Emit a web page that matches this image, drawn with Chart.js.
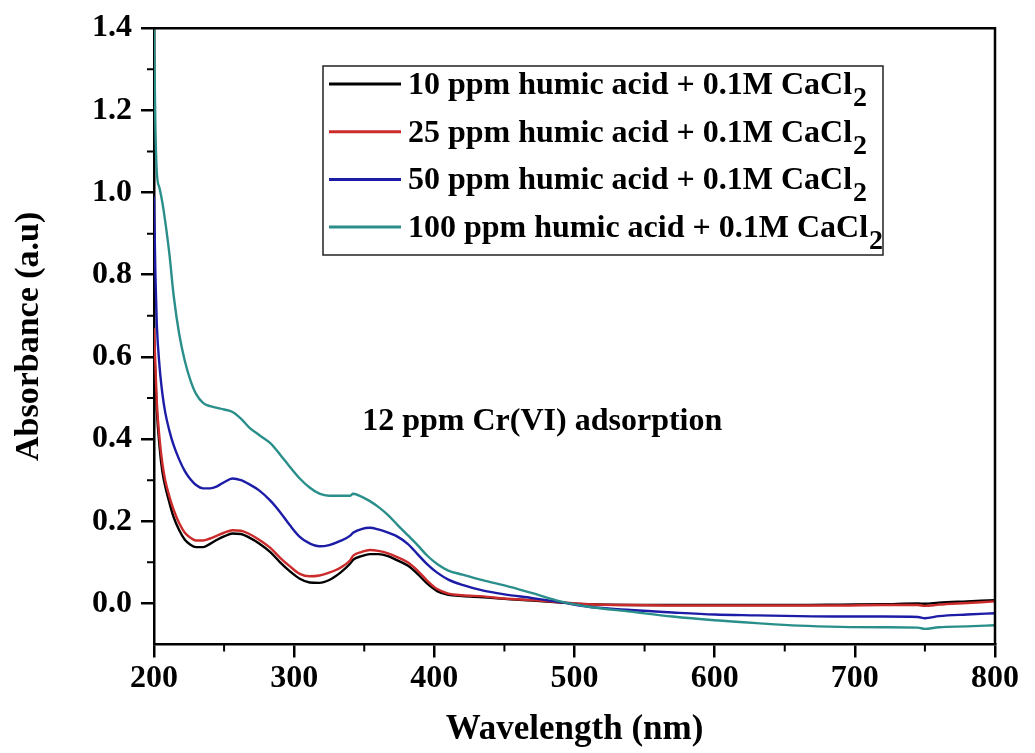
<!DOCTYPE html>
<html>
<head>
<meta charset="utf-8">
<script src="https://cdn.jsdelivr.net/npm/chart.js@4"></script>
<style>
  html, body { margin: 0; padding: 0; background: #fff; }
  canvas { display: block; }
</style>
</head>
<body>
<canvas id="uvChart" width="1035" height="753"></canvas>
<script>
// wavelength grid (nm) shared by all spectra
const wavelengths = [200, 201, 202, 204, 206, 208, 211, 214, 218, 222, 226, 230, 235, 240, 245, 250, 256, 262, 268, 275,
    283, 290, 297, 304, 311, 318, 325, 333, 340, 342, 348, 354, 360, 367, 374, 381, 388, 395, 402, 410,
    420, 435, 450, 470, 490, 510, 540, 570, 600, 630, 660, 690, 720, 745, 750, 760, 780, 800];

// absorbance
const ha10 = [0.64, 0.55, 0.47, 0.38, 0.32, 0.285, 0.245, 0.21, 0.178, 0.155, 0.143, 0.137, 0.137, 0.145, 0.155, 0.163, 0.17, 0.169, 0.16, 0.146,
    0.125, 0.1, 0.078, 0.06, 0.051, 0.05, 0.057, 0.075, 0.097, 0.106, 0.115, 0.12, 0.12, 0.115, 0.104, 0.092, 0.072, 0.048, 0.03, 0.021,
    0.018, 0.015, 0.011, 0.007, 0.002, -0.002, -0.004, -0.004, -0.004, -0.004, -0.004, -0.003, -0.002, 0, -0.001, 0.002, 0.005, 0.008];
const ha25 = [0.67, 0.58, 0.49, 0.40, 0.34, 0.30, 0.26, 0.228, 0.195, 0.172, 0.16, 0.153, 0.153, 0.158, 0.165, 0.172, 0.178, 0.177, 0.169, 0.155,
    0.135, 0.111, 0.09, 0.072, 0.066, 0.068, 0.075, 0.087, 0.105, 0.116, 0.125, 0.13, 0.128, 0.122, 0.112, 0.1, 0.08, 0.055, 0.035, 0.024,
    0.02, 0.017, 0.012, 0.008, 0.003, -0.002, -0.004, -0.005, -0.005, -0.005, -0.005, -0.005, -0.004, -0.004, -0.006, -0.003, 0.001, 0.005];
const ha50 = [0.99, 0.80, 0.68, 0.575, 0.51, 0.465, 0.42, 0.385, 0.35, 0.322, 0.302, 0.288, 0.28, 0.28, 0.285, 0.295, 0.304, 0.30, 0.29, 0.275,
    0.25, 0.222, 0.19, 0.162, 0.146, 0.139, 0.142, 0.152, 0.165, 0.172, 0.181, 0.184, 0.18, 0.172, 0.162, 0.145, 0.12, 0.095, 0.075, 0.058,
    0.045, 0.031, 0.022, 0.013, 0.003, -0.008, -0.016, -0.022, -0.027, -0.029, -0.031, -0.032, -0.032, -0.033, -0.036, -0.031, -0.027, -0.024];
const ha100 = [1.40, 1.16, 1.05, 1.01, 0.975, 0.93, 0.85, 0.75, 0.655, 0.59, 0.543, 0.51, 0.488, 0.48, 0.476, 0.472, 0.466, 0.45, 0.428, 0.41,
    0.39, 0.362, 0.332, 0.304, 0.282, 0.267, 0.262, 0.262, 0.262, 0.267, 0.26, 0.249, 0.235, 0.215, 0.19, 0.166, 0.142, 0.116, 0.096, 0.08,
    0.07, 0.056, 0.044, 0.025, 0.005, -0.008, -0.02, -0.032, -0.041, -0.048, -0.054, -0.057, -0.058, -0.059, -0.062, -0.058, -0.056, -0.053];

const seriesLabels = [
    '10 ppm humic acid + 0.1M CaCl2',
    '25 ppm humic acid + 0.1M CaCl2',
    '50 ppm humic acid + 0.1M CaCl2',
    '100 ppm humic acid + 0.1M CaCl2'
];
const seriesColors = ['#000000', '#cc2b2b', '#1c1ca6', '#2a8f8a'];

const xTicks = [200, 300, 400, 500, 600, 700, 800];
const yTicks = [0.0, 0.2, 0.4, 0.6, 0.8, 1.0, 1.2, 1.4];
const xMinorTicks = [250, 350, 450, 550, 650, 750];
const yMinorTicks = [0.1, 0.3, 0.5, 0.7, 0.9, 1.1, 1.3];

const noteText = '12 ppm Cr(VI) adsorption';

const SERIF = "'Liberation Serif', 'Times New Roman', serif";

function toPoints(ys) {
    return wavelengths.map((x, i) => ({ x: x, y: ys[i] }));
}

// frame on top/right + short minor ticks
const framePlugin = {
    id: 'framePlugin',
    afterDraw(chart) {
        const { ctx, chartArea: a, scales } = chart;
        ctx.save();
        ctx.strokeStyle = '#000';
        ctx.lineWidth = 2.5;
        ctx.beginPath();
        ctx.moveTo(a.left, a.top);
        ctx.lineTo(a.right, a.top);
        ctx.lineTo(a.right, a.bottom);
        ctx.stroke();

        ctx.lineWidth = 2;
        ctx.beginPath();
        xMinorTicks.forEach(v => {
            const px = scales.x.getPixelForValue(v);
            ctx.moveTo(px, a.bottom);
            ctx.lineTo(px, a.bottom + 7);
        });
        yMinorTicks.forEach(v => {
            const py = scales.y.getPixelForValue(v);
            ctx.moveTo(a.left, py);
            ctx.lineTo(a.left - 7, py);
        });
        ctx.stroke();
        ctx.restore();
    }
};

// boxed legend with subscript 2, plus the annotation text
const legendPlugin = {
    id: 'legendPlugin',
    afterDraw(chart) {
        const { ctx, scales } = chart;
        const boxX = 323, boxY = 66, boxW = 560, boxH = 189;
        ctx.save();
        ctx.fillStyle = '#fff';
        ctx.fillRect(boxX, boxY, boxW, boxH);
        ctx.strokeStyle = '#222';
        ctx.lineWidth = 1.5;
        ctx.strokeRect(boxX, boxY, boxW, boxH);

        chart.data.datasets.forEach((ds, i) => {
            const y = 84 + i * 47.7;
            ctx.strokeStyle = ds.borderColor;
            ctx.lineWidth = 3;
            ctx.beginPath();
            ctx.moveTo(329, y);
            ctx.lineTo(401, y);
            ctx.stroke();

            const m = ds.label.match(/^(.*CaCl)(\d)$/);
            const main = m ? m[1] : ds.label;
            ctx.fillStyle = '#000';
            ctx.textBaseline = 'alphabetic';
            ctx.textAlign = 'left';
            ctx.font = 'bold 32px ' + SERIF;
            ctx.fillText(main, 408, y + 10);
            if (m) {
                const w = ctx.measureText(main).width;
                ctx.font = 'bold 28px ' + SERIF;
                ctx.fillText(m[2], 408 + w + 1, y + 22);
            }
        });

        ctx.font = 'bold 32px ' + SERIF;
        ctx.fillStyle = '#000';
        ctx.textAlign = 'center';
        ctx.textBaseline = 'alphabetic';
        ctx.fillText(noteText, scales.x.getPixelForValue(477), scales.y.getPixelForValue(0.423));
        ctx.restore();
    }
};

const datasets = [ha10, ha25, ha50, ha100].map((ys, i) => ({
    label: seriesLabels[i],
    data: toPoints(ys),
    borderColor: seriesColors[i],
    backgroundColor: seriesColors[i],
    borderWidth: 2.4,
    pointRadius: 0,
    cubicInterpolationMode: 'monotone',
    order: [3, 2, 1, 0][i]
}));

const ctx = document.getElementById('uvChart').getContext('2d');
new Chart(ctx, {
    type: 'line',
    data: { datasets: datasets },
    options: {
        responsive: false,
        animation: false,
        layout: { padding: { left: 0, top: 23, right: 40, bottom: 0 } },
        plugins: {
            legend: { display: false },
            tooltip: { enabled: false }
        },
        scales: {
            x: {
                type: 'linear',
                min: 200,
                max: 800,
                afterBuildTicks: axis => { axis.ticks = xTicks.map(v => ({ value: v })); },
                afterFit: axis => { axis.height = 108.5; },
                grid: { drawOnChartArea: false, drawTicks: true, tickLength: 13, color: '#000', lineWidth: 2.5 },
                border: { display: true, color: '#000', width: 2.5 },
                ticks: {
                    color: '#000',
                    padding: 2,
                    maxRotation: 0,
                    font: { family: SERIF, size: 32, weight: 'bold' },
                    callback: v => String(v)
                },
                title: {
                    display: true,
                    text: 'Wavelength (nm)',
                    color: '#000',
                    font: { family: SERIF, size: 35, weight: 'bold' },
                    padding: { top: 0, bottom: 2 }
                }
            },
            y: {
                type: 'linear',
                min: -0.1,
                max: 1.4,
                afterBuildTicks: axis => { axis.ticks = yTicks.map(v => ({ value: v })); },
                afterFit: axis => { axis.width = 154; },
                grid: { drawOnChartArea: false, drawTicks: true, tickLength: 13, color: '#000', lineWidth: 2.5 },
                border: { display: true, color: '#000', width: 2.5 },
                ticks: {
                    color: '#000',
                    padding: 9,
                    font: { family: SERIF, size: 32, weight: 'bold' },
                    callback: v => Number(v).toFixed(1)
                },
                title: {
                    display: true,
                    text: 'Absorbance (a.u)',
                    color: '#000',
                    font: { family: SERIF, size: 34, weight: 'bold' },
                    padding: { top: 9, bottom: 0 }
                }
            }
        }
    },
    plugins: [framePlugin, legendPlugin]
});
</script>
</body>
</html>
